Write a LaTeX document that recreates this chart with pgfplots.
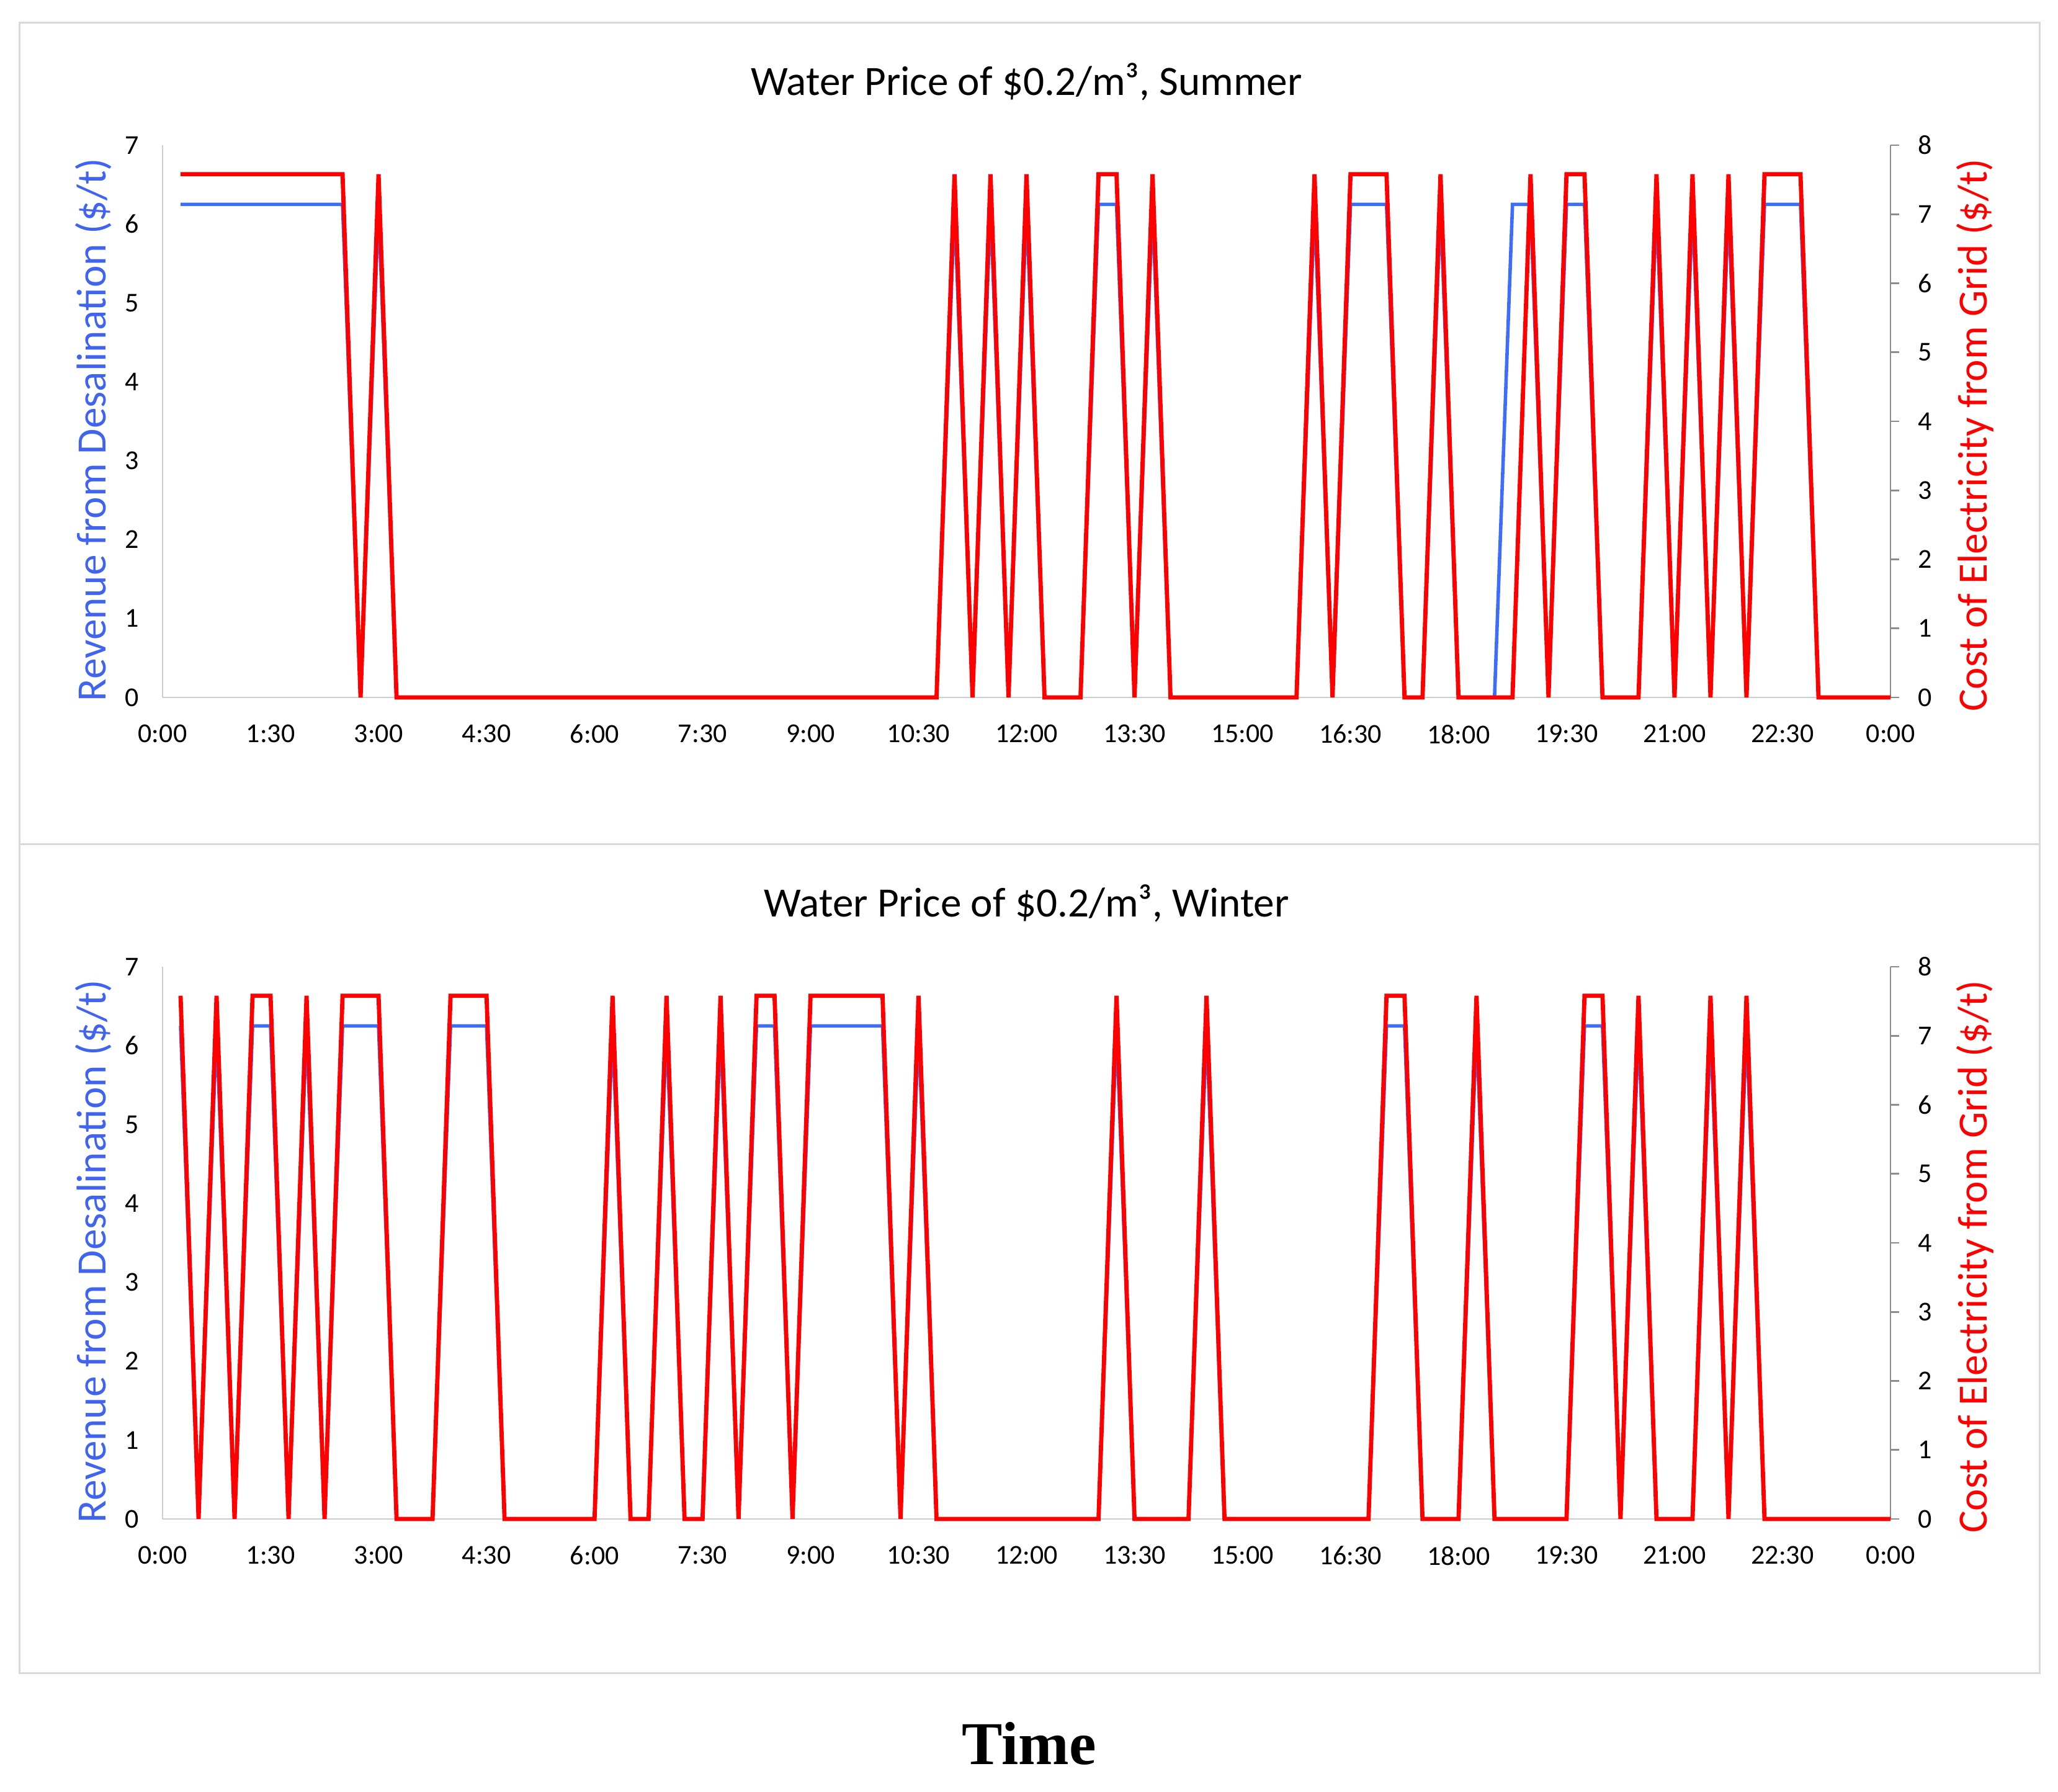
\documentclass[border=0pt]{standalone}
\usepackage{fontspec}
\setmainfont{Carlito}
\newfontfamily\timesfont{Liberation Serif}
\usepackage{pgfplots}
\usepackage{pgfplotstable}
\pgfplotsset{compat=1.18}
\definecolor{bluel}{RGB}{61,110,250}
\definecolor{bluelab}{RGB}{64,100,240}
\definecolor{redl}{RGB}{255,0,0}
\definecolor{axg}{RGB}{205,205,205}
\definecolor{axr}{RGB}{140,140,140}
\definecolor{frameg}{RGB}{217,217,217}

% t = time (h), b = revenue from desalination ($/t), r = cost of electricity ($/t)
\pgfplotstableread{
t b r
0.25 6.25 7.58
0.5 6.25 7.58
0.75 6.25 7.58
1.0 6.25 7.58
1.25 6.25 7.58
1.5 6.25 7.58
1.75 6.25 7.58
2.0 6.25 7.58
2.25 6.25 7.58
2.5 6.25 7.58
2.75 0 0
3.0 6.25 7.58
3.25 0 0
3.5 0 0
3.75 0 0
4.0 0 0
4.25 0 0
4.5 0 0
4.75 0 0
5.0 0 0
5.25 0 0
5.5 0 0
5.75 0 0
6.0 0 0
6.25 0 0
6.5 0 0
6.75 0 0
7.0 0 0
7.25 0 0
7.5 0 0
7.75 0 0
8.0 0 0
8.25 0 0
8.5 0 0
8.75 0 0
9.0 0 0
9.25 0 0
9.5 0 0
9.75 0 0
10.0 0 0
10.25 0 0
10.5 0 0
10.75 0 0
11.0 6.25 7.58
11.25 0 0
11.5 6.25 7.58
11.75 0 0
12.0 6.25 7.58
12.25 0 0
12.5 0 0
12.75 0 0
13.0 6.25 7.58
13.25 6.25 7.58
13.5 0 0
13.75 6.25 7.58
14.0 0 0
14.25 0 0
14.5 0 0
14.75 0 0
15.0 0 0
15.25 0 0
15.5 0 0
15.75 0 0
16.0 6.25 7.58
16.25 0 0
16.5 6.25 7.58
16.75 6.25 7.58
17.0 6.25 7.58
17.25 0 0
17.5 0 0
17.75 6.25 7.58
18.0 0 0
18.25 0 0
18.5 0 0
18.75 6.25 0
19.0 6.25 7.58
19.25 0 0
19.5 6.25 7.58
19.75 6.25 7.58
20.0 0 0
20.25 0 0
20.5 0 0
20.75 6.25 7.58
21.0 0 0
21.25 6.25 7.58
21.5 0 0
21.75 6.25 7.58
22.0 0 0
22.25 6.25 7.58
22.5 6.25 7.58
22.75 6.25 7.58
23.0 0 0
23.25 0 0
23.5 0 0
23.75 0 0
24.0 0 0
}\summer

\pgfplotstableread{
t b r
0.25 6.25 7.58
0.5 0 0
0.75 6.25 7.58
1.0 0 0
1.25 6.25 7.58
1.5 6.25 7.58
1.75 0 0
2.0 6.25 7.58
2.25 0 0
2.5 6.25 7.58
2.75 6.25 7.58
3.0 6.25 7.58
3.25 0 0
3.5 0 0
3.75 0 0
4.0 6.25 7.58
4.25 6.25 7.58
4.5 6.25 7.58
4.75 0 0
5.0 0 0
5.25 0 0
5.5 0 0
5.75 0 0
6.0 0 0
6.25 6.25 7.58
6.5 0 0
6.75 0 0
7.0 6.25 7.58
7.25 0 0
7.5 0 0
7.75 6.25 7.58
8.0 0 0
8.25 6.25 7.58
8.5 6.25 7.58
8.75 0 0
9.0 6.25 7.58
9.25 6.25 7.58
9.5 6.25 7.58
9.75 6.25 7.58
10.0 6.25 7.58
10.25 0 0
10.5 6.25 7.58
10.75 0 0
11.0 0 0
11.25 0 0
11.5 0 0
11.75 0 0
12.0 0 0
12.25 0 0
12.5 0 0
12.75 0 0
13.0 0 0
13.25 6.25 7.58
13.5 0 0
13.75 0 0
14.0 0 0
14.25 0 0
14.5 6.25 7.58
14.75 0 0
15.0 0 0
15.25 0 0
15.5 0 0
15.75 0 0
16.0 0 0
16.25 0 0
16.5 0 0
16.75 0 0
17.0 6.25 7.58
17.25 6.25 7.58
17.5 0 0
17.75 0 0
18.0 0 0
18.25 6.25 7.58
18.5 0 0
18.75 0 0
19.0 0 0
19.25 0 0
19.5 0 0
19.75 6.25 7.58
20.0 6.25 7.58
20.25 0 0
20.5 6.25 7.58
20.75 0 0
21.0 0 0
21.25 0 0
21.5 6.25 7.58
21.75 0 0
22.0 6.25 7.58
22.25 0 0
22.5 0 0
22.75 0 0
23.0 0 0
23.25 0 0
23.5 0 0
23.75 0 0
24.0 0 0
}\winter

\pgfplotsset{
  panel/.style={
    scale only axis, width=696.25pt, height=222.5pt, anchor=south west,
    xmin=0, xmax=24, clip=false,
    /pgf/number format/assume math mode=true,
    tick label style={font=\fontsize{11}{13}\selectfont},
    label style={font=\fontsize{16.8}{19}\selectfont},
  },
  leftax/.style={panel,
    ymin=0, ymax=7, ytick={0,1,2,3,4,5,6,7},
    axis x line*=bottom, axis y line*=left,
    axis line style={draw=axg, line width=0.7pt, -},
    xtick={0,1.5,3,4.5,6,7.5,9,10.5,12,13.5,15,16.5,18,19.5,21,22.5,24},
    xticklabels={0:00,1:30,3:00,4:30,6:00,7:30,9:00,10:30,12:00,13:30,15:00,16:30,18:00,19:30,21:00,22:30,0:00},
    major tick length=0pt,
    xticklabel style={yshift=-7.5pt},
    yticklabel style={xshift=-6pt},
    ylabel={Revenue from Desalination (\$/t)},
    ylabel style={color=bluelab, at={(axis description cs:-0.033,0.485)}, anchor=base},
    title style={at={(axis description cs:0.5,1)}, anchor=base, yshift=14pt, font=\fontsize{16.8}{19}\selectfont},
  },
  rightax/.style={panel,
    ymin=0, ymax=8, ytick={0,1,2,3,4,5,6,7,8},
    axis x line=none, axis y line*=right,
    axis line style={draw=axr, line width=0.7pt, -},
    xtick=\empty,
    tick align=outside, major tick length=3.5pt,
    ytick style={draw=axr, line width=0.7pt},
    yticklabel style={xshift=4pt},
    ylabel={Cost of Electricity from Grid (\$/t)},
    ylabel style={color=redl, at={(axis description cs:1.0557,0.475)}, anchor=base},
  },
}

\begin{document}
\begin{tikzpicture}
\useasboundingbox (0,0) rectangle (829.25pt,722pt);
\draw[frameg, line width=0.75pt] (7.75pt,381.75pt) rectangle (821.75pt,712.75pt);
\draw[frameg, line width=0.75pt] (7.75pt,47.75pt) rectangle (821.75pt,381.75pt);

% Summer
\begin{axis}[leftax, at={(65.5pt,441pt)}, title={Water Price of \$0.2/m³, Summer}]
\addplot[bluel, line width=1.4pt] table[x=t,y=b]{\summer};
\end{axis}
\begin{axis}[rightax, at={(65.5pt,441pt)}]
\addplot[redl, line width=1.7pt] table[x=t,y=r]{\summer};
\end{axis}

% Winter
\begin{axis}[leftax, at={(65.5pt,110pt)}, title={Water Price of \$0.2/m³, Winter},
  xlabel={Time},
  xlabel style={at={(axis description cs:0.5,0)}, anchor=base, yshift=-98.75pt, xshift=1pt,
    font=\fontsize{24.5}{28}\selectfont\timesfont\bfseries, color=black}]
\addplot[bluel, line width=1.4pt] table[x=t,y=b]{\winter};
\end{axis}
\begin{axis}[rightax, at={(65.5pt,110pt)}]
\addplot[redl, line width=1.7pt] table[x=t,y=r]{\winter};
\end{axis}
\end{tikzpicture}
\end{document}
